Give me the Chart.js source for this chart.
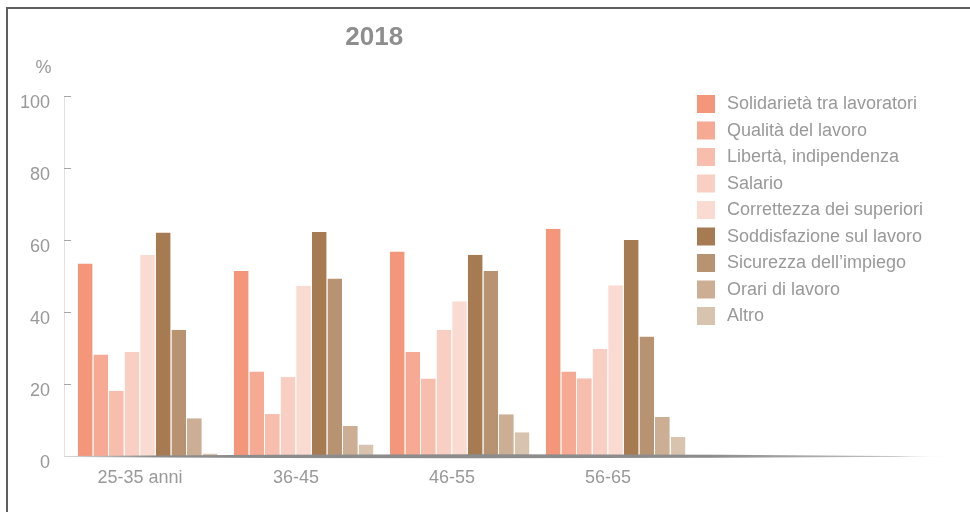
<!DOCTYPE html>
<html lang="it">
<head>
<meta charset="utf-8">
<title>2018 – Aspetti del lavoro per classe di età</title>
<script src="https://cdn.jsdelivr.net/npm/chart.js@4/dist/chart.umd.min.js"></script>
<style>
  html, body { margin: 0; padding: 0; background: #fff; }
  #wrap { position: relative; width: 970px; height: 512px; overflow: hidden; }
  #frame { position: absolute; left: 6px; top: 7px; width: 980px; height: 520px;
           border-left: 2px solid #5e5e5e; border-top: 2px solid #5e5e5e; pointer-events: none; }
  canvas { position: absolute; left: 0; top: 0; }
</style>
</head>
<body>
<div id="wrap">
  <canvas id="chart" width="970" height="512"></canvas>
  <div id="frame"></div>
</div>
<script>
// Age groups
const categories = ['25-35 anni', '36-45', '46-55', '56-65'];

// Share of respondents (%) per aspect, one value per age group
const solidarieta   = [53.5, 51.4, 56.8, 63.1];
const qualita       = [28.2, 23.5, 28.9, 23.5];
const liberta       = [18.1, 11.7, 21.5, 21.6];
const salario       = [28.9, 22.0, 35.1, 29.7];
const correttezza   = [55.8, 47.3, 43.0, 47.4];
const soddisfazione = [62.1, 62.2, 55.9, 60.0];
const sicurezza     = [35.1, 49.3, 51.4, 33.2];
const orari         = [10.5, 8.3, 11.6, 10.8];
const altro         = [0.7, 3.2, 6.6, 5.3];

const seriesNames = [
  'Solidarietà tra lavoratori', 'Qualità del lavoro', 'Libertà, indipendenza',
  'Salario', 'Correttezza dei superiori', 'Soddisfazione sul lavoro',
  'Sicurezza dell\u2019impiego', 'Orari di lavoro', 'Altro'
];
const seriesValues = [solidarieta, qualita, liberta, salario, correttezza,
                      soddisfazione, sicurezza, orari, altro];
const seriesColors = ['#f4967a', '#f6aa93', '#f8bead', '#f9cfc3', '#fadbd2',
                      '#a77b52', '#b89372', '#cbae94', '#d8c3af'];

const yTicks = [0, 20, 40, 60, 80, 100];
const yUnit = '%';
const chartTitle = '2018';

const FONT = '"Liberation Sans", Arial, Helvetica, sans-serif';
const TEXT_GREY = '#999999';
const AXIS_INSET = 6;   // value axis sits a little left of the first bar group

// Tapered grey floor line under the bars
const floorLine = {
  id: 'floorLine',
  afterDatasetsDraw(chart) {
    const { ctx, chartArea } = chart;
    const x0 = chartArea.left - AXIS_INSET, x1 = chart.width - 10;
    const y = chartArea.bottom + 0.5;
    const g = ctx.createLinearGradient(x0, 0, x1, 0);
    g.addColorStop(0, '#d8d8d8');
    g.addColorStop(0.1, '#8c8c8c');
    g.addColorStop(0.72, '#8c8c8c');
    g.addColorStop(0.93, '#c2c2c2');
    g.addColorStop(1, 'rgba(255,255,255,0)');
    ctx.save();
    ctx.fillStyle = g;
    ctx.beginPath();
    ctx.moveTo(x0, y - 0.5);
    ctx.quadraticCurveTo(x0 + (x1 - x0) * 0.5, y - 4.2, x1, y);
    ctx.quadraticCurveTo(x0 + (x1 - x0) * 0.5, y + 3.4, x0, y + 0.5);
    ctx.closePath();
    ctx.fill();
    ctx.restore();
  }
};

// Value axis line with short inward ticks, unit label and chart title
const axisAndTitle = {
  id: 'axisAndTitle',
  afterDraw(chart) {
    const { ctx, chartArea } = chart;
    const ys = chart.scales.y;
    const ax = chartArea.left - AXIS_INSET + 0.5;
    ctx.save();
    ctx.strokeStyle = '#e2e2e2';
    ctx.lineWidth = 1;
    ctx.beginPath();
    ctx.moveTo(ax, ys.getPixelForValue(100));
    ctx.lineTo(ax, ys.getPixelForValue(0));
    ctx.stroke();
    ctx.strokeStyle = '#a6a6a6';
    yTicks.forEach(v => {
      if (v === 0) return;
      const py = Math.round(ys.getPixelForValue(v)) + 0.5;
      ctx.beginPath();
      ctx.moveTo(ax - 0.5, py);
      ctx.lineTo(ax + 6.5, py);
      ctx.stroke();
    });
    ctx.fillStyle = TEXT_GREY;
    ctx.font = '18px ' + FONT;
    ctx.textAlign = 'center';
    ctx.textBaseline = 'middle';
    ctx.fillText(yUnit, ax - 21, chartArea.top - 28);

    ctx.fillStyle = '#8e8e8e';
    ctx.font = 'bold 26px ' + FONT;
    ctx.fillText(chartTitle, (ax + chartArea.right) / 2 - 5, 38);
    ctx.restore();
  }
};

// Vertical legend to the right of the plot
const sideLegend = {
  id: 'sideLegend',
  afterDraw(chart) {
    const { ctx, chartArea } = chart;
    const bx = chartArea.right + 3;
    let cy = chartArea.top + 8;
    ctx.save();
    ctx.font = '18px ' + FONT;
    ctx.textBaseline = 'middle';
    ctx.textAlign = 'left';
    chart.data.datasets.forEach(ds => {
      ctx.fillStyle = ds.backgroundColor;
      ctx.fillRect(bx, cy - 9, 18, 18);
      ctx.fillStyle = TEXT_GREY;
      ctx.fillText(ds.label, bx + 30, cy + 0.5);
      cy += 26.5;
    });
    ctx.restore();
  }
};

new Chart(document.getElementById('chart'), {
  type: 'bar',
  data: {
    labels: categories,
    datasets: seriesNames.map((name, i) => ({
      label: name,
      data: seriesValues[i],
      backgroundColor: seriesColors[i],
      borderColor: '#ffffff',
      borderWidth: { top: 0, left: 0, bottom: 0, right: 1 },
      borderSkipped: false,
      categoryPercentage: 0.9,
      barPercentage: 1.0
    }))
  },
  options: {
    responsive: false,
    animation: false,
    events: [],
    layout: { padding: { left: 12, top: 96, right: 276, bottom: 11 } },
    plugins: {
      legend: { display: false },
      tooltip: { enabled: false },
      title: { display: false }
    },
    scales: {
      x: {
        grid: { display: false },
        border: { display: false },
        ticks: {
          color: TEXT_GREY,
          font: { family: FONT, size: 18 },
          padding: 3,
          maxRotation: 0,
          labelOffset: -8
        },
        afterFit(scale) { scale.height = 45; }
      },
      y: {
        min: 0,
        max: 100,
        grid: { display: false, drawTicks: false },
        border: { display: false },
        ticks: {
          stepSize: 20,
          color: TEXT_GREY,
          font: { family: FONT, size: 18 },
          padding: 20,
          labelOffset: 7
        },
        afterFit(scale) { scale.width = 58; }
      }
    }
  },
  plugins: [floorLine, axisAndTitle, sideLegend]
});
</script>
</body>
</html>
